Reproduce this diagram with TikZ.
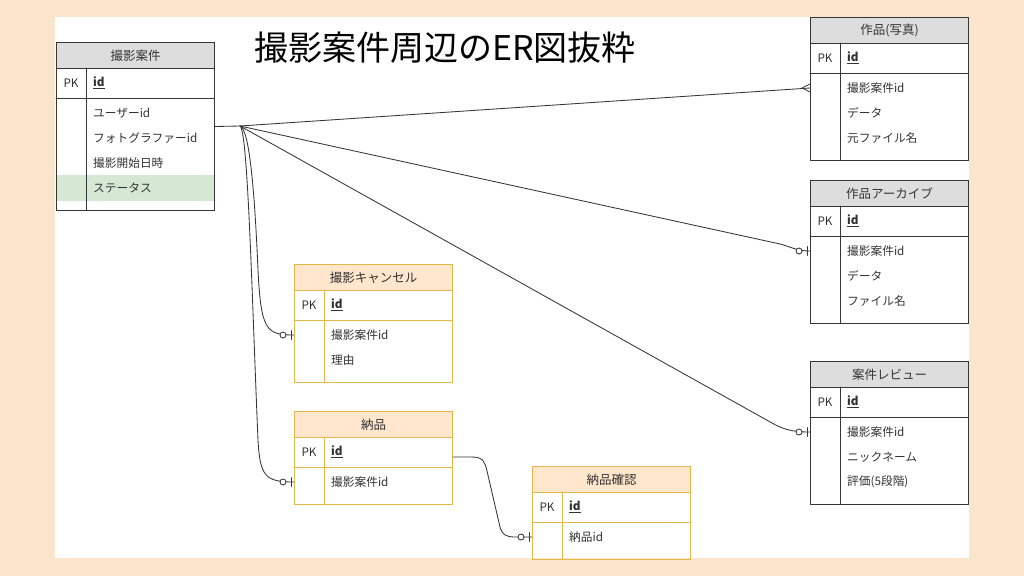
\documentclass[tikz,border=0pt]{standalone}
\usepackage{fontspec}
\setmainfont{Noto Sans CJK JP}
\usetikzlibrary{calc}
\definecolor{bgpeach}{RGB}{252,229,205}
\definecolor{hdgray}{RGB}{221,221,221}
\definecolor{edge}{RGB}{54,54,54}
\definecolor{gold}{RGB}{228,184,72}
\definecolor{hdorange}{RGB}{255,230,204}
\definecolor{hilite}{RGB}{213,232,212}
\definecolor{ink}{RGB}{51,51,51}
\tikzset{
  tblbox/.style={draw=edge,line width=1pt,minimum width=158pt,inner sep=0pt,anchor=north west},
  hdbox/.style={draw=edge,line width=1pt,minimum width=158pt,minimum height=26pt,inner sep=0pt,anchor=north west,text=ink,font=\fontsize{12.5}{14}\selectfont},
  attr/.style={anchor=west,inner sep=0pt,text=ink,font=\fontsize{11.7}{13}\selectfont},
  rel/.style={draw=edge,line width=.85pt},
  zeroone/.pic={\draw[rel] (-3,-4.5)--(-3,4.5); \draw[rel,fill=white] (-11,0) circle (3pt);},
  many/.pic={\draw[rel] (-8,0)--(0,-4) (-8,0)--(0,4);}
}
% name, left, top, title, line colour, head colour, rows
\newcommand{\ertable}[7]{%
  \begin{scope}[shift={(#2,#3)}]
    \foreach \rowtext [count=\n] in {#7} {\xdef\rowcount{\n}}
    \pgfmathsetmacro\tblh{25*\rowcount+68}
    \node[tblbox,draw=#5,minimum height=\tblh*1pt] (#1) at (0,0) {};
    \node[hdbox,draw=#5,fill=#6] (#1-h) at (0,0) {#4};
    \draw[draw=#5,line width=1pt] (0,56) -- (158,56) (30,26) -- (30,\tblh);
    \node[attr,anchor=center] (#1-pkl) at (15,41) {PK};
    \node[attr] (#1-pk) at (37,41) {\textbf{\underline{id}}};
    \foreach \rowtext [count=\n] in {#7} {\node[attr] (#1-\n) at (37,46+25*\n) {\rowtext};}
  \end{scope}}
\begin{document}
\begin{tikzpicture}[x=1pt,y=-1pt,line cap=round]
  \useasboundingbox (0,0) rectangle (1024,576);
  \fill[bgpeach] (0,0) rectangle (1024,576);
  \fill[white] (55,17) rectangle (969,558);
  \node[font=\fontsize{34}{36}\selectfont] (title) at (445,48) {撮影案件周辺のER図抜粋};
  \fill[hilite] (56,175) rectangle (214,201);
  \ertable{shoot}{56}{42}{撮影案件}{edge}{hdgray}{ユーザーid,フォトグラファーid,撮影開始日時,ステータス}
  \ertable{photo}{810}{17}{作品(写真)}{edge}{hdgray}{撮影案件id,データ,元ファイル名}
  \ertable{arch}{810}{180}{作品アーカイブ}{edge}{hdgray}{撮影案件id,データ,ファイル名}
  \ertable{review}{810}{361}{案件レビュー}{edge}{hdgray}{撮影案件id,ニックネーム,評価(5段階)}
  \ertable{cancel}{294}{264}{撮影キャンセル}{gold}{hdorange}{撮影案件id,理由}
  \ertable{deliv}{294}{411}{納品}{gold}{hdorange}{撮影案件id}
  \ertable{confirm}{532}{466}{納品確認}{gold}{hdorange}{納品id}
  \coordinate (hub) at (240,126);
  \draw[rel] (shoot.east) -- (hub) -- (photo.west |- photo-1);
  \draw[rel] (hub) -- (780,244) .. controls (790,246.5) and (797,251) .. (arch.west |- arch-1);
  \draw[rel] (hub) -- (772,423) .. controls (782,428.5) and (790,432) .. (review.west |- review-1);
  \draw[rel] (hub) .. controls (250,129) and (255,200) .. (258,270) .. controls (261,330) and (266,335) .. (cancel.west |- cancel-1);
  \draw[rel] (hub) .. controls (248,130) and (252,300) .. (258,440) .. controls (260,476) and (265,482) .. (deliv.west |- deliv-1);
  \draw[rel] ($(deliv.east |- deliv-pk)+(0,5)$) -- (472,457) .. controls (484,457) and (485,463) .. (487,471) -- (500,527) .. controls (502,534) and (505,537) .. (515,537) -- (confirm.west |- confirm-1);
  \pic at (photo.west |- photo-1) {many};
  \pic at (arch.west |- arch-1) {zeroone};
  \pic at (review.west |- review-1) {zeroone};
  \pic at (cancel.west |- cancel-1) {zeroone};
  \pic at (deliv.west |- deliv-1) {zeroone};
  \pic at (confirm.west |- confirm-1) {zeroone};
\end{tikzpicture}
\end{document}
